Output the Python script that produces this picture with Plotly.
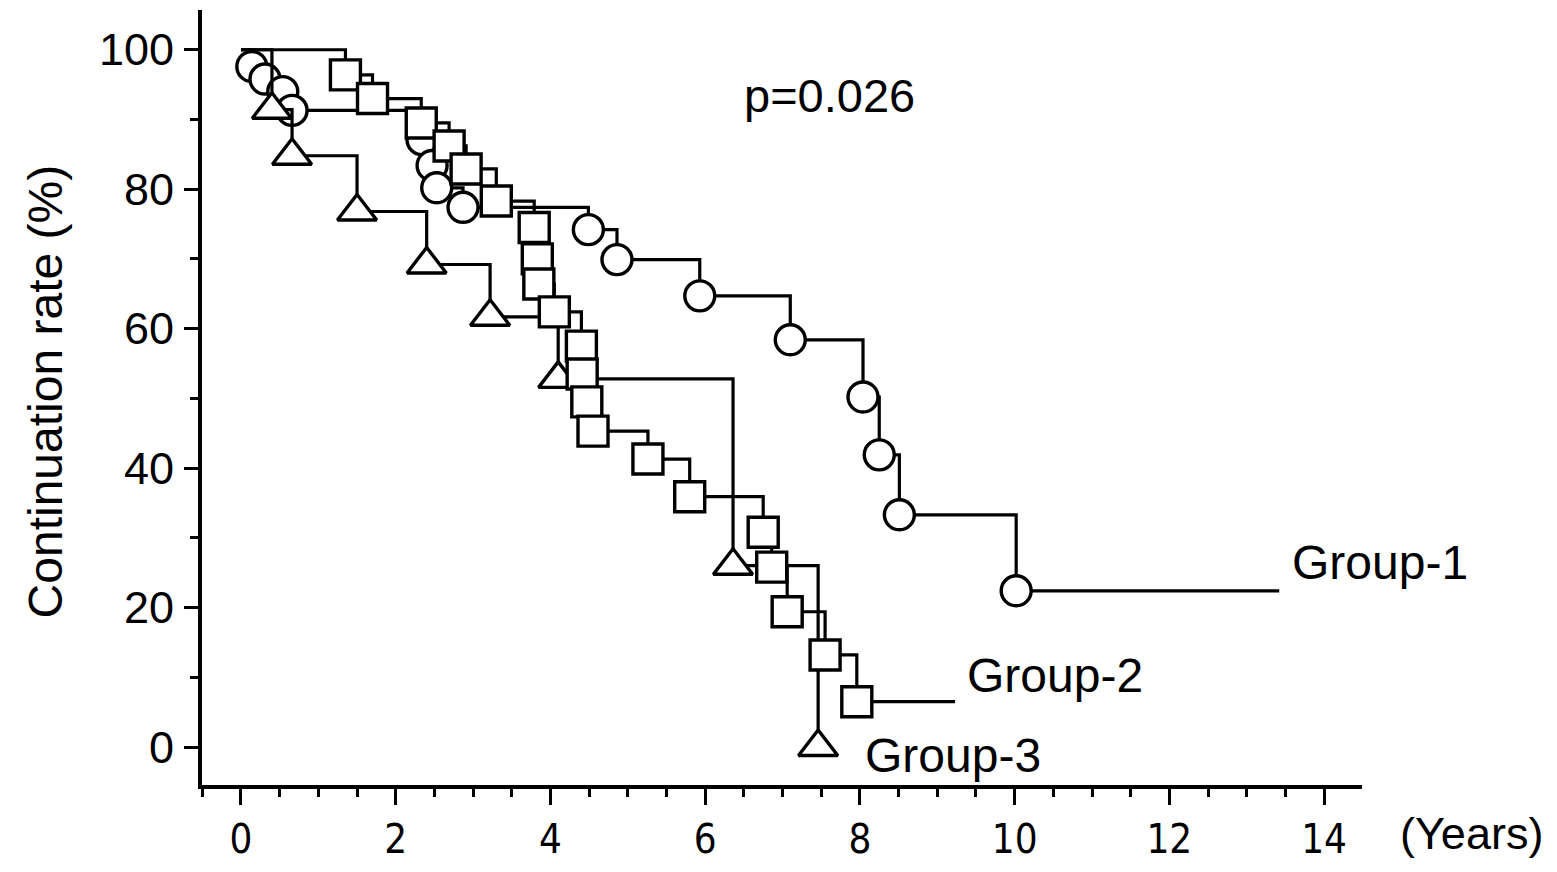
import plotly.graph_objects as go

# Group-1 (circles)
g1_t = [0, 0.14, 0.31, 0.54, 0.66, 2.34, 2.47, 2.53, 2.87, 4.49, 4.86, 5.93, 7.10, 8.04, 8.25, 8.51, 10.02, 13.42]
g1_s = [100, 97.6, 95.8, 94.0, 91.3, 87.1, 83.4, 80.2, 77.4, 74.2, 69.9, 64.7, 58.4, 50.2, 41.9, 33.3, 22.4, 22.4]

# Group-2 (squares)
g2_t = [0, 1.35, 1.70, 2.33, 2.69, 2.91, 3.30, 3.79, 3.83, 3.85, 4.05, 4.40, 4.41, 4.47, 4.55,
        5.26, 5.80, 6.75, 6.86, 7.06, 7.55, 7.96, 9.23]
g2_s = [100, 96.4, 93.0, 89.5, 86.2, 82.9, 78.3, 74.5, 70.0, 66.4, 62.4, 57.5, 53.5, 49.5, 45.3,
        41.3, 35.9, 30.8, 25.8, 19.4, 13.2, 6.5, 6.5]

# Group-3 (triangles)
g3_t = [0, 0.40, 0.66, 1.50, 2.40, 3.22, 4.10, 6.36, 7.46]
g3_s = [100, 91.4, 84.8, 76.8, 69.2, 61.7, 52.8, 26.0, 0]

x_ticks = [0, 2, 4, 6, 8, 10, 12, 14]
y_ticks = [0, 20, 40, 60, 80, 100]

FONT = "Liberation Sans, Arial, sans-serif"
NARROW = "Liberation Sans Narrow, Arial Narrow, DejaVu Sans Condensed, Liberation Sans, sans-serif"

fig = go.Figure()

def add_group(t, s, symbol, size, ends_with_censor):
    fig.add_trace(go.Scatter(x=t, y=s, mode="lines", line=dict(color="black", width=3.2, shape="hv"),
                             showlegend=False, hoverinfo="skip"))
    mt = t[1:-1] if ends_with_censor else t[1:]
    ms = s[1:-1] if ends_with_censor else s[1:]
    fig.add_trace(go.Scatter(x=mt, y=ms, mode="markers",
                             marker=dict(symbol=symbol, size=size, color="white",
                                         line=dict(color="black", width=3.4)),
                             showlegend=False, hoverinfo="skip"))

add_group(g1_t, g1_s, "circle", 30, True)
add_group(g3_t, g3_s, "triangle-up", 34, False)
add_group(g2_t, g2_s, "square", 30, True)

ann = [
    dict(x=7.61, y=93.5, text="p=0.026", xanchor="center", yanchor="middle", size=47),
    dict(x=13.56, y=26.4, text="Group-1", xanchor="left", yanchor="middle", size=48),
    dict(x=9.36, y=10.3, text="Group-2", xanchor="left", yanchor="middle", size=48),
    dict(x=8.04, y=-1.2, text="Group-3", xanchor="left", yanchor="middle", size=48),
]
for a in ann:
    sz = a.pop("size")
    fig.add_annotation(**a, xref="x", yref="y", showarrow=False,
                       font=dict(family=FONT, size=sz, color="black"))

fig.add_annotation(x=(1398 - 202) / 1160, xref="paper", y=(785 - 833) / 775, yref="paper",
                   text="(Years)", showarrow=False, xanchor="left", yanchor="middle",
                   font=dict(family=FONT, size=45, color="black"))

fig.add_annotation(x=(45 - 202) / 1160, xref="paper", y=51, yref="y", text="Continuation rate (%)",
                   textangle=-90, showarrow=False, xanchor="center", yanchor="middle",
                   font=dict(family=FONT, size=48, color="black"))

fig.update_layout(
    width=1557, height=872,
    margin=dict(l=202, r=195, t=10, b=87, autoexpand=False),
    paper_bgcolor="white", plot_bgcolor="white",
    xaxis=dict(range=[-0.504, 14.49], tickvals=x_ticks, ticktext=[str(v) for v in x_ticks],
               ticks="outside", ticklen=16, tickwidth=3, tickcolor="black", automargin=False,
               showline=True, linewidth=4, linecolor="black", showgrid=False, zeroline=False,
               minor=dict(dtick=0.5, tick0=0, ticks="outside", ticklen=8, tickwidth=3, tickcolor="black", showgrid=False),
               tickfont=dict(family=NARROW, size=40, color="black"), ticklabelstandoff=0),
    yaxis=dict(range=[-5.45, 105.7], tickvals=y_ticks, ticktext=[str(v) for v in y_ticks],
               ticks="outside", ticklen=14, tickwidth=3, tickcolor="black", automargin=False,
               showline=True, linewidth=4, linecolor="black", showgrid=False, zeroline=False,
               minor=dict(dtick=10, tick0=0, ticks="outside", ticklen=8, tickwidth=3, tickcolor="black", showgrid=False),
               tickfont=dict(family=FONT, size=45, color="black"), ticklabelstandoff=1),
)

fig.write_html("out.html")
